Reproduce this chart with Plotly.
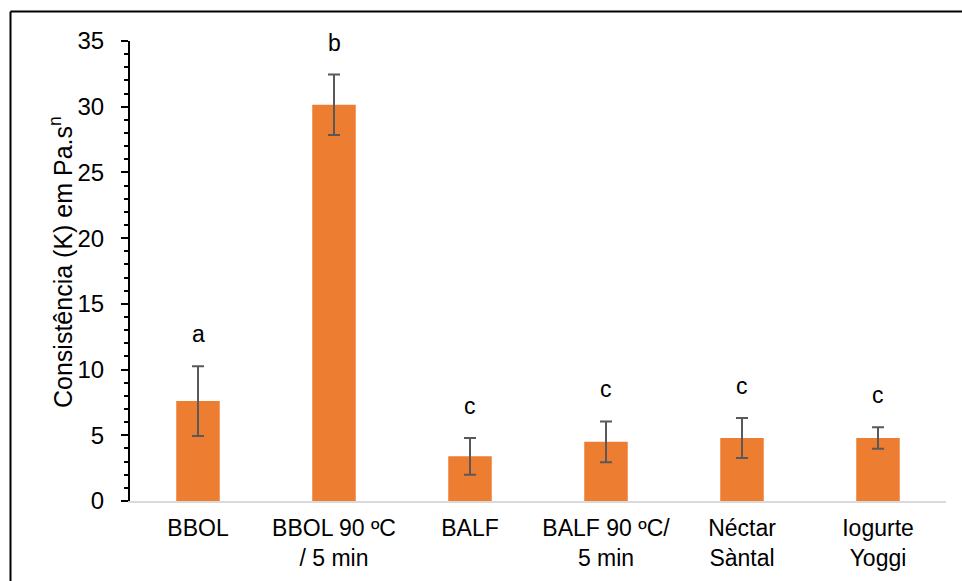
import plotly.graph_objects as go

# Consistency index K (Pa.s^n) per sample, with standard deviation
categories = ["BBOL", "BBOL 90 ºC<br>/ 5 min", "BALF", "BALF 90 ºC/<br>5 min",
              "Néctar<br>Sàntal", "Iogurte<br>Yoggi"]
k_values = [7.6, 30.15, 3.4, 4.5, 4.8, 4.8]
k_sd = [2.65, 2.3, 1.4, 1.55, 1.52, 0.82]
letters = ["a", "b", "c", "c", "c", "c"]
y_title = "Consistência (K) em Pa.s<sup>n</sup>"

FONT = "Liberation Sans, Arial, sans-serif"

fig = go.Figure()
fig.add_trace(go.Bar(
    x=categories, y=k_values,
    marker=dict(color="#ED7D31", line=dict(width=0)),
    width=0.32,
    error_y=dict(type="data", array=k_sd, visible=True,
                 color="#595959", thickness=2, width=6),
    hoverinfo="skip",
))

# significance letters above each error bar
for cat, v, sd, lt in zip(categories, k_values, k_sd, letters):
    fig.add_annotation(x=cat, y=v + sd, xref="x", yref="y", text=lt,
                       showarrow=False, yanchor="middle", yshift=32,
                       font=dict(family=FONT, size=23, color="black"))

# plot-area geometry in pixels
L, R, T, B = 130, 946, 41, 501
W, H = R - L, B - T
px = lambda x: (x - L) / W
py = lambda y: (B - y) / H

# vertical axis title
fig.add_annotation(x=px(61), y=py(262), xref="paper", yref="paper",
                   text=y_title, textangle=-90, showarrow=False,
                   xanchor="center", yanchor="middle",
                   font=dict(family=FONT, size=25, color="black"))

# outer chart frame (top and left edges)
fig.add_shape(type="line", xref="paper", yref="paper",
              x0=px(10.5), x1=px(962), y0=py(11.5), y1=py(11.5),
              line=dict(color="black", width=2))
fig.add_shape(type="line", xref="paper", yref="paper",
              x0=px(10.5), x1=px(10.5), y0=py(11.5), y1=py(581),
              line=dict(color="black", width=2))

fig.update_layout(
    width=962, height=581,
    margin=dict(l=L, r=962 - R, t=T, b=581 - B),
    paper_bgcolor="white", plot_bgcolor="white",
    showlegend=False,
    font=dict(family=FONT, color="black"),
    xaxis=dict(
        showline=True, linecolor="#d9d9d9", linewidth=2,
        ticks="", showgrid=False, ticklabelstandoff=5, automargin=False,
        tickfont=dict(family=FONT, size=23, color="black"),
    ),
    yaxis=dict(
        range=[0, 35], dtick=5, tick0=0,
        showline=True, linecolor="black", linewidth=2,
        ticks="outside", ticklen=7, tickwidth=2, tickcolor="black",
        minor=dict(dtick=1, ticks="outside", ticklen=4, tickwidth=2,
                   tickcolor="black", showgrid=False),
        showgrid=False, zeroline=False, automargin=False,
        ticklabelstandoff=12,
        tickfont=dict(family=FONT, size=24, color="black"),
    ),
)

fig.write_html("out.html")
